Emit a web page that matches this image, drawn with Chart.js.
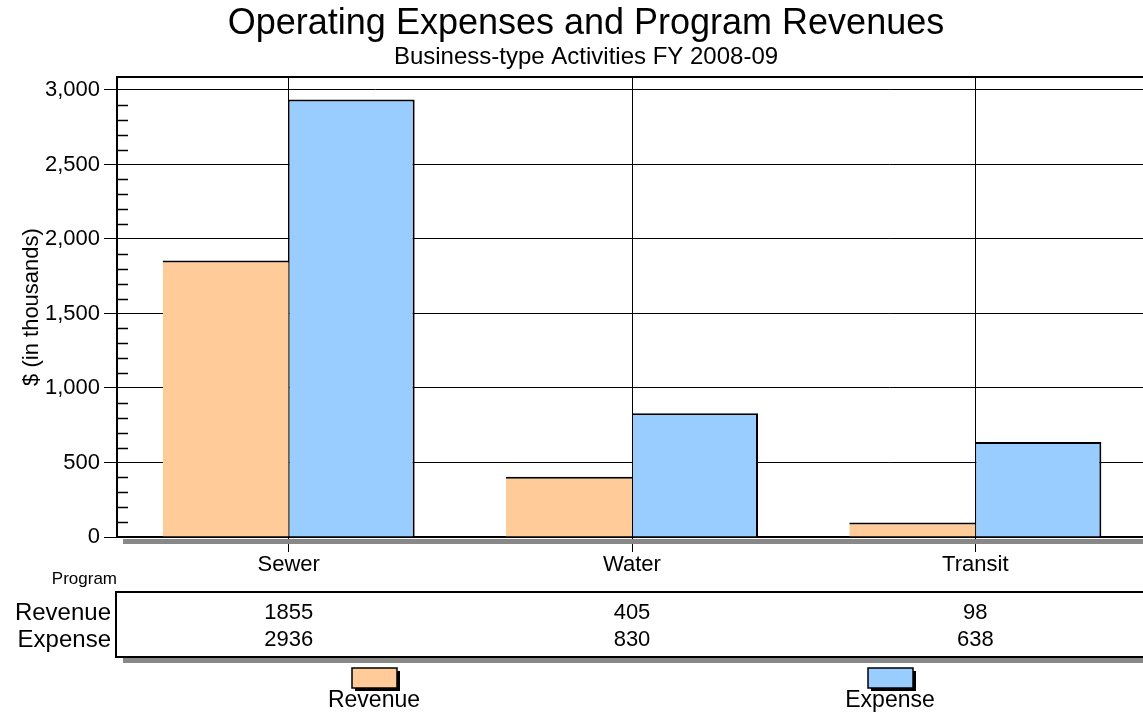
<!DOCTYPE html>
<html>
<head>
<meta charset="utf-8">
<script src="https://cdn.jsdelivr.net/npm/chart.js@4"></script>
<style>
html,body{margin:0;padding:0;overflow:hidden;background:#fff}
#wrap{width:1150px;height:719px;position:relative}
</style>
</head>
<body>
<div id="wrap"><canvas id="c"></canvas></div>
<script>
// ===== DATA =====
const programs = ['Sewer', 'Water', 'Transit'];
const revenue = [1855, 405, 98];
const expense = [2936, 830, 638];
const yTicks = [0, 500, 1000, 1500, 2000, 2500, 3000];
const minorStep = 100;
const yMax = 3087;

const TITLE = 'Operating Expenses and Program Revenues';
const SUBTITLE = 'Business-type Activities FY 2008-09';

const FONT = '"Liberation Sans", Arial, Helvetica, sans-serif';
const legendCenters = [374, 890]; // x position of each legend item
const titleCenter = 586;

// titres, cadre haut, petites graduations, ombres, tableau de données, légende
const extras = {
  id: 'extras',
  afterDraw(chart) {
    const { ctx, chartArea: a, scales: { x, y } } = chart;
    const W = chart.width;
    ctx.save();

    // titres
    ctx.fillStyle = '#000';
    ctx.textAlign = 'center';
    ctx.textBaseline = 'alphabetic';
    ctx.font = '36px ' + FONT;
    ctx.fillText(TITLE, titleCenter, 34);
    ctx.font = '24px ' + FONT;
    ctx.fillText(SUBTITLE, titleCenter, 64);

    ctx.strokeStyle = '#000';
    // bord supérieur du graphique
    ctx.lineWidth = 2;
    ctx.beginPath(); ctx.moveTo(a.left - 1, a.top); ctx.lineTo(a.right, a.top); ctx.stroke();

    // graduations mineures (à l'intérieur)
    ctx.lineWidth = 1.5;
    for (let v = minorStep; v < yMax; v += minorStep) {
      if (yTicks.includes(v)) continue;
      const py = Math.round(y.getPixelForValue(v)) + 0.5;
      ctx.beginPath(); ctx.moveTo(a.left, py); ctx.lineTo(a.left + 11, py); ctx.stroke();
    }

    // ombre sous l'axe X
    ctx.fillStyle = '#888';
    ctx.fillRect(a.left + 6, a.bottom + 2, W, 5);

    // tableau de données
    const tTop = a.bottom + 55, tH = 65;
    ctx.fillStyle = '#888';
    ctx.fillRect(a.left + 6, tTop + tH + 1, W, 5);
    ctx.lineWidth = 2;
    ctx.strokeRect(a.left - 1, tTop, W, tH);

    ctx.fillStyle = '#000';
    ctx.textBaseline = 'middle';
    ctx.textAlign = 'right';
    ctx.font = '17px ' + FONT;
    ctx.fillText('Program', a.left, a.bottom + 42);
    const rowY = [tTop + 21, tTop + 48];
    chart.data.datasets.forEach((ds, r) => {
      ctx.textAlign = 'right';
      ctx.font = '24px ' + FONT;
      ctx.fillText(ds.label, a.left - 6, rowY[r]);
      ctx.textAlign = 'center';
      ctx.font = '22px ' + FONT;
      ds.data.forEach((v, i) => ctx.fillText(String(v), x.getPixelForValue(i), rowY[r]));
    });

    // légende
    chart.data.datasets.forEach((ds, i) => {
      const cx = legendCenters[i], sy = 668;
      ctx.fillStyle = '#000';
      ctx.fillRect(cx - 19, sy + 3, 45, 20);
      ctx.fillStyle = ds.backgroundColor;
      ctx.fillRect(cx - 22, sy, 45, 20);
      ctx.lineWidth = 1.5;
      ctx.strokeRect(cx - 22, sy, 45, 20);
      ctx.fillStyle = '#000';
      ctx.textAlign = 'center';
      ctx.font = '23px ' + FONT;
      ctx.fillText(ds.label, cx, 701);
    });
    ctx.restore();
  }
};

new Chart(document.getElementById('c'), {
  type: 'bar',
  data: {
    labels: programs,
    datasets: [
      { label: 'Revenue', data: revenue, backgroundColor: '#FFCC99', borderColor: '#000',
        borderWidth: { top: 2, left: 0, right: 0, bottom: 0 }, borderSkipped: false },
      { label: 'Expense', data: expense, backgroundColor: '#99CCFF', borderColor: '#000',
        borderWidth: { top: 2, left: 1, right: 2, bottom: 0 }, borderSkipped: false }
    ]
  },
  options: {
    responsive: true, maintainAspectRatio: false, animation: false,
    layout: { padding: { left: 0, right: 3, top: 77, bottom: 0 } },
    datasets: { bar: { categoryPercentage: 0.734, barPercentage: 1 } },
    plugins: {
      legend: { display: false },
      tooltip: { enabled: false },
      title: { display: false },
      subtitle: { display: false }
    },
    scales: {
      x: {
        z: 1,
        grid: { offset: false, color: '#000', lineWidth: 1, tickLength: 15 },
        border: { color: '#000', width: 2 },
        ticks: { color: '#000', font: { family: FONT, size: 22 }, padding: 0 },
        afterFit: s => { s.height = 182; }
      },
      y: {
        z: 1, min: 0, max: yMax,
        afterBuildTicks: s => { s.ticks = yTicks.map(v => ({ value: v })); },
        grid: { color: '#000', lineWidth: 1, tickLength: 13 },
        border: { color: '#000', width: 2 },
        ticks: { color: '#000', font: { family: FONT, size: 22 }, padding: 4 },
        title: { display: true, text: '$ (in thousands)', color: '#000',
          font: { family: FONT, size: 22 }, padding: { top: 19, bottom: 0 } },
        afterFit: s => { s.width = 117; }
      }
    }
  },
  plugins: [extras]
});
</script>
</body>
</html>
